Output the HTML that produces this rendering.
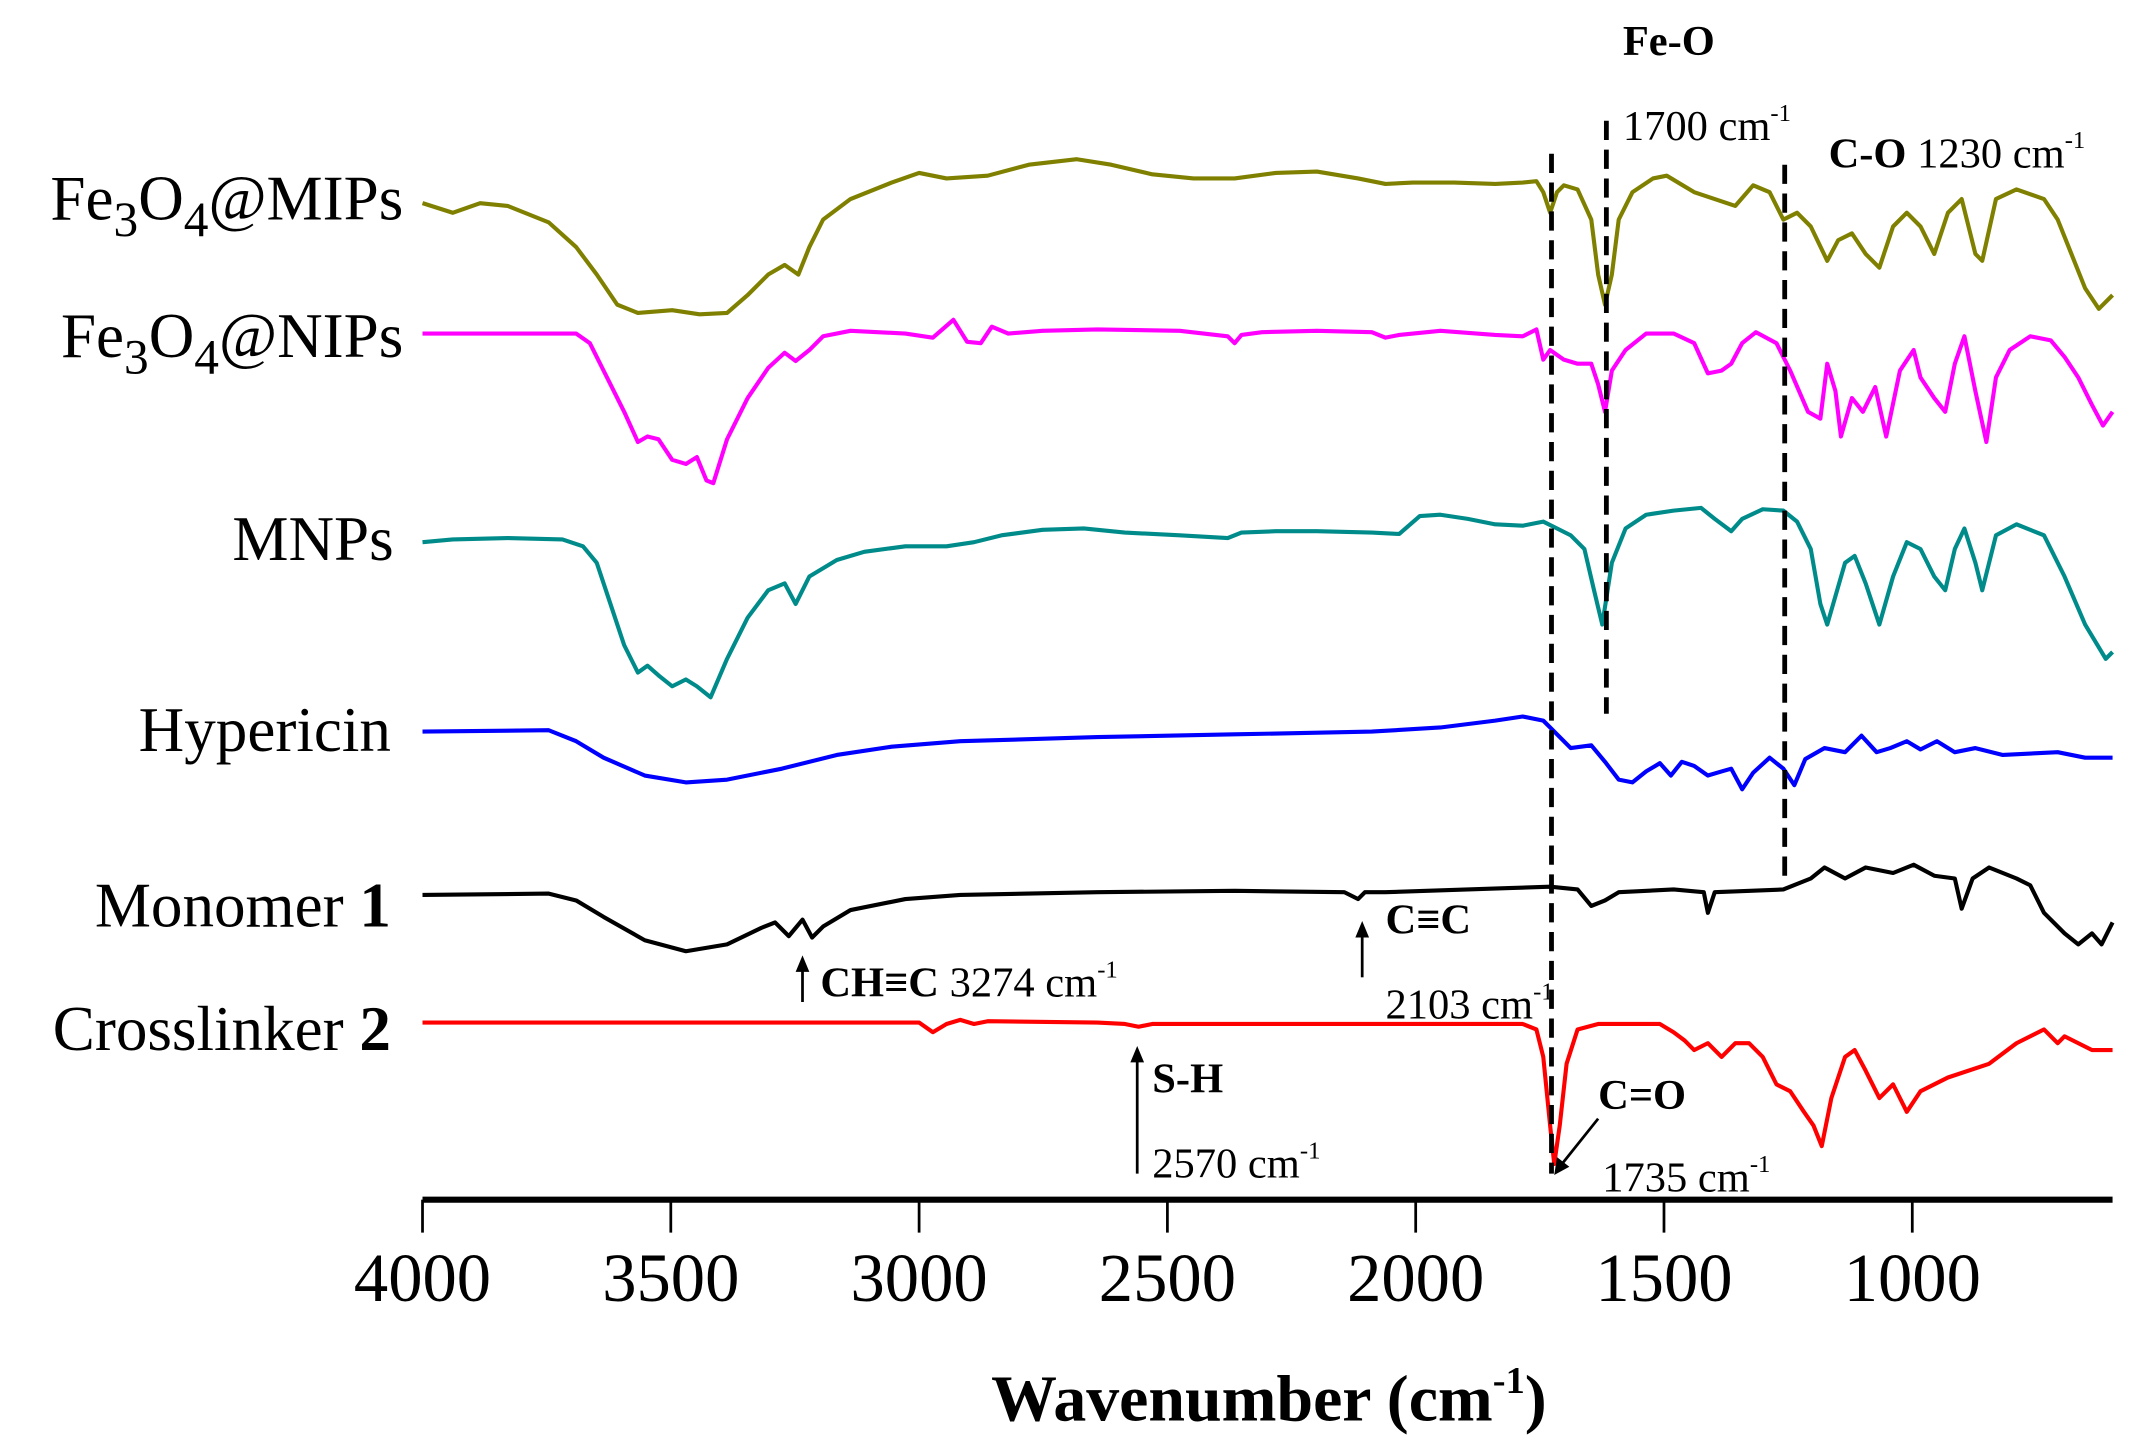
<!DOCTYPE html>
<html><head><meta charset="utf-8"><style>
html,body{margin:0;padding:0;background:#fff;}
svg{display:block;}
text{font-family:"Liberation Serif",serif;fill:#000;}
</style></head><body>
<svg width="2140" height="1444" viewBox="0 0 1560 1052" preserveAspectRatio="none" xmlns="http://www.w3.org/2000/svg">
<g fill="none" stroke-width="3" stroke-linejoin="round">
<polyline stroke="#808000" points="308,148 330,155 350,148 370,150 400,162 420,180 435,200 450,222 465,228 490,226 510,229 530,228 545,215 560,200 572,193 582,200 590,180 600,160 620,145 650,133 670,126 690,130 720,128 750,120 785,116 810,120 840,127 870,130 900,130 930,126 960,125 990,130 1010,134 1030,133 1060,133 1090,134 1110,133 1120,132 1125,140 1130,155 1135,140 1140,135 1150,138 1160,160 1165,200 1170,222 1175,200 1180,160 1190,140 1205,130 1215,128 1225,134 1235,140 1250,145 1265,150 1278,135 1290,140 1300,160 1310,155 1320,165 1332,190 1340,175 1350,170 1360,185 1370,195 1380,165 1390,155 1400,165 1410,185 1420,155 1430,145 1440,185 1445,190 1455,145 1470,138 1490,145 1500,160 1510,185 1520,210 1530,225 1540,215"/>
<polyline stroke="#ff00ff" points="308,243 420,243 430,250 440,270 455,300 465,322 472,318 480,320 490,335 500,338 508,333 515,350 520,352 530,320 545,290 560,268 572,257 580,263 590,255 600,245 620,241 660,243 680,246 695,233 705,249 715,250 723,238 735,243 760,241 800,240 860,241 895,245 900,250 905,244 920,242 960,241 1000,242 1010,246 1020,244 1050,241 1090,244 1110,245 1120,240 1125,262 1130,255 1140,262 1150,265 1160,265 1165,280 1170,300 1175,270 1185,255 1200,243 1220,243 1235,250 1245,272 1255,270 1262,265 1270,250 1280,242 1295,250 1305,270 1318,300 1327,305 1332,265 1338,285 1342,318 1350,290 1358,300 1367,282 1375,318 1385,270 1395,255 1400,275 1410,290 1418,300 1425,265 1432,245 1440,285 1448,322 1455,275 1465,255 1480,245 1495,248 1505,260 1515,275 1525,295 1533,310 1540,300"/>
<polyline stroke="#008b8b" points="308,395 330,393 370,392 410,393 425,398 435,410 445,440 455,470 465,490 472,485 480,492 490,500 500,495 508,500 518,508 530,480 545,450 560,430 572,425 580,440 590,420 610,408 630,402 660,398 690,398 710,395 730,390 760,386 790,385 820,388 860,390 895,392 905,388 930,387 960,387 1000,388 1020,389 1035,376 1050,375 1070,378 1090,382 1110,383 1125,380 1135,385 1145,390 1155,400 1162,430 1168,455 1175,410 1185,385 1200,375 1220,372 1240,370 1250,378 1262,387 1270,378 1285,371 1300,372 1310,380 1320,400 1327,440 1332,455 1345,410 1352,405 1360,425 1370,455 1380,420 1390,395 1400,400 1410,420 1418,430 1425,400 1432,385 1440,410 1445,430 1455,390 1470,382 1490,390 1505,420 1520,455 1535,480 1540,475"/>
<polyline stroke="#0000ff" points="308,533 400,532 420,540 440,552 470,565 500,570 530,568 570,560 610,550 650,544 700,540 800,537 900,535 1000,533 1050,530 1090,525 1110,522 1125,525 1135,535 1145,545 1160,543 1170,555 1180,568 1190,570 1200,562 1210,556 1218,565 1226,555 1235,558 1245,565 1255,562 1262,560 1270,575 1278,563 1290,552 1300,560 1308,572 1316,553 1330,545 1345,548 1357,536 1368,548 1378,545 1390,540 1400,546 1412,540 1425,548 1440,545 1460,550 1500,548 1520,552 1540,552"/>
<polyline stroke="#000" points="308,652 400,651 420,656 440,668 470,685 500,693 530,688 555,676 565,672 575,682 585,670 592,683 600,675 620,663 660,655 700,652 800,650 900,649 980,650 990,655 995,650 1010,650 1100,647 1130,646 1150,648 1160,660 1170,656 1180,650 1220,648 1242,650 1245,665 1250,650 1300,648 1320,640 1330,632 1345,640 1360,632 1380,636 1395,630 1410,638 1425,640 1430,662 1438,640 1450,632 1470,640 1480,645 1490,665 1505,680 1515,688 1525,680 1532,688 1540,672"/>
<polyline stroke="#ff0000" points="308,745 600,745 670,745 680,752 690,746 700,743 710,746 720,744 800,745 820,746 830,748 840,746 900,746 1000,746 1090,746 1110,746 1120,750 1125,770 1130,820 1133,848 1137,820 1142,775 1150,750 1165,746 1210,746 1220,752 1228,758 1235,765 1245,760 1255,770 1265,760 1275,760 1285,770 1295,790 1305,795 1315,810 1322,820 1328,835 1335,800 1345,770 1352,765 1360,780 1370,800 1380,790 1390,810 1400,795 1420,785 1450,775 1470,760 1490,750 1500,760 1505,755 1515,760 1525,765 1540,765"/>
</g>
<g stroke="#000" stroke-width="3.5" stroke-dasharray="14,7" fill="none">
<line x1="1131" y1="112" x2="1131" y2="855"/>
<line x1="1171" y1="88" x2="1171" y2="520"/>
<line x1="1301" y1="120" x2="1301" y2="640"/>
</g>
<g stroke="#000" fill="none">
<line x1="308" y1="874" x2="1540" y2="874" stroke-width="4.5"/>
<g stroke-width="2">
<line x1="308" y1="874" x2="308" y2="898"/><line x1="489" y1="874" x2="489" y2="898"/><line x1="670" y1="874" x2="670" y2="898"/><line x1="851" y1="874" x2="851" y2="898"/><line x1="1032" y1="874" x2="1032" y2="898"/><line x1="1213" y1="874" x2="1213" y2="898"/><line x1="1394" y1="874" x2="1394" y2="898"/>
<line x1="585" y1="730" x2="585" y2="702"/><line x1="993" y1="712" x2="993" y2="677"/><line x1="829" y1="855" x2="829" y2="768"/><line x1="1165" y1="815" x2="1137" y2="850"/>
</g></g>
<g fill="#000">
<polygon points="585,696 580,708 590,708"/><polygon points="993,671 988,683 998,683"/><polygon points="829,762 824,774 834,774"/><polygon points="1133,856 1135,843 1144,850"/>
</g>
<g font-size="50" text-anchor="middle">
<text x="308" y="948">4000</text><text x="489" y="948">3500</text><text x="670" y="948">3000</text><text x="851" y="948">2500</text><text x="1032" y="948">2000</text><text x="1213" y="948">1500</text><text x="1394" y="948">1000</text>
</g>
<text x="925" y="1035" font-size="48" font-weight="bold" text-anchor="middle">Wavenumber (cm<tspan font-size="28" dy="-20">-1</tspan><tspan dy="20">)</tspan></text>
<g font-size="46" text-anchor="end">
<text x="294" y="160">Fe<tspan font-size="36" dy="12">3</tspan><tspan dy="-12">O</tspan><tspan font-size="36" dy="12">4</tspan><tspan dy="-12">@MIPs</tspan></text>
<text x="294" y="260">Fe<tspan font-size="36" dy="12">3</tspan><tspan dy="-12">O</tspan><tspan font-size="36" dy="12">4</tspan><tspan dy="-12">@NIPs</tspan></text>
<text x="287" y="408">MNPs</text>
<text x="285" y="547">Hypericin</text>
<text x="285" y="675">Monomer <tspan font-weight="bold">1</tspan></text>
<text x="285" y="765">Crosslinker <tspan font-weight="bold">2</tspan></text>
</g>
<g font-size="31">
<text x="1183" y="40" font-weight="bold">Fe-O</text>
<text x="1183" y="102">1700 cm<tspan font-size="18" dy="-14">-1</tspan></text>
<text x="1333" y="122"><tspan font-weight="bold">C-O</tspan> 1230 cm<tspan font-size="18" dy="-14">-1</tspan></text>
<text x="598" y="726"><tspan font-weight="bold">CH≡C</tspan> 3274 cm<tspan font-size="18" dy="-14">-1</tspan></text>
<text x="1010" y="680" font-weight="bold">C≡C</text>
<text x="1010" y="742">2103 cm<tspan font-size="18" dy="-14">-1</tspan></text>
<text x="840" y="796" font-weight="bold">S-H</text>
<text x="840" y="858">2570 cm<tspan font-size="18" dy="-14">-1</tspan></text>
<text x="1165" y="808" font-weight="bold">C=O</text>
<text x="1168" y="868">1735 cm<tspan font-size="18" dy="-14">-1</tspan></text>
</g>
</svg>
</body></html>
